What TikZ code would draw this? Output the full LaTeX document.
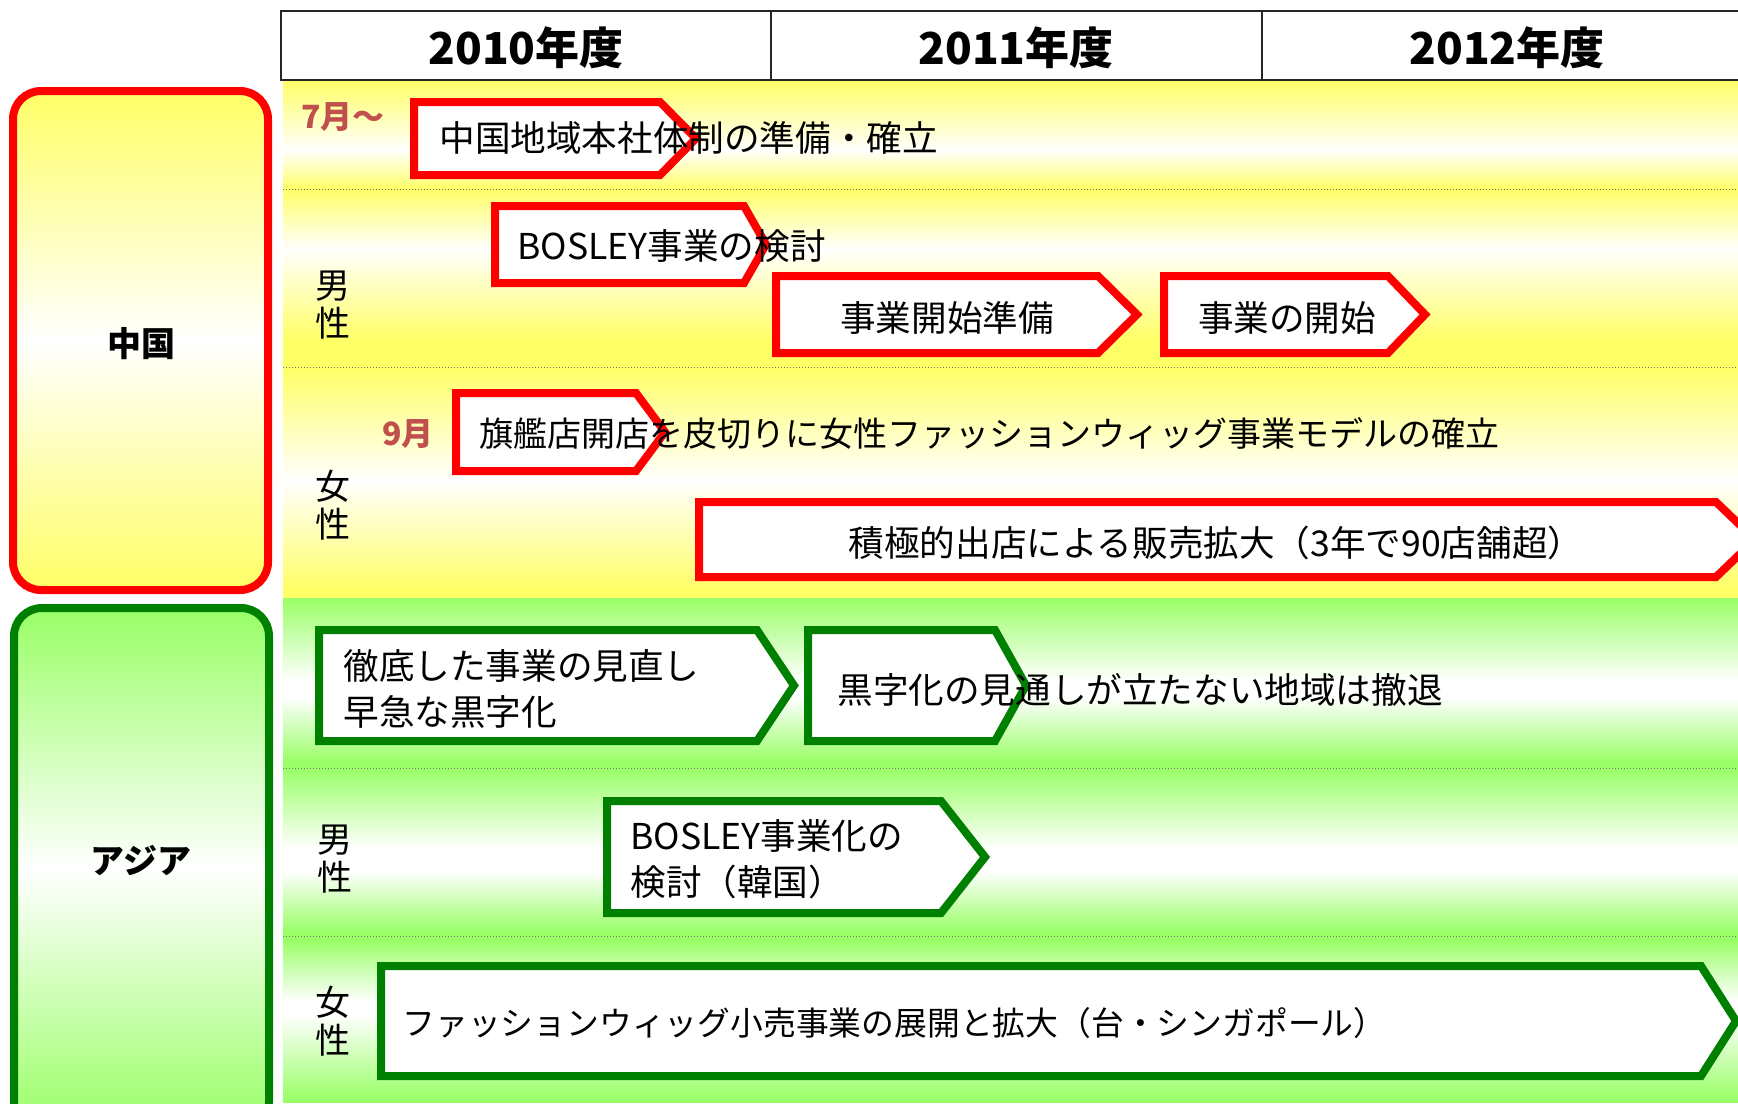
\documentclass[tikz,border=0pt]{standalone}
\usepackage{fontspec}
\setmainfont{Noto Sans CJK JP}
\definecolor{yl}{RGB}{255,255,102}
\definecolor{gr}{RGB}{153,255,102}
\definecolor{dgreen}{RGB}{0,128,0}
\definecolor{mred}{RGB}{192,80,77}
\newcommand\pentabox[6]{%
  \draw[#1] (#2,#3) -- (#5,#3) -- (#6,{(#3+#4)/2}) -- (#5,#4) -- (#2,#4) -- cycle;}
\begin{document}
\begin{tikzpicture}[x=0.5pt,y=-0.5pt,
  redbox/.style={draw=red, line width=4pt, fill=white, line join=miter},
  grbox/.style={draw=dgreen, line width=4pt, fill=white, line join=miter},
  txt/.style={anchor=west, inner sep=0pt, font=\fontsize{17.8pt}{23pt}\selectfont, align=left},
  ctxt/.style={anchor=center, inner sep=0pt, font=\fontsize{17.8pt}{23pt}\selectfont},
  sex/.style={anchor=center, inner sep=0pt, align=center, font=\fontsize{17.5pt}{19pt}\selectfont},
  hdr/.style={anchor=center, inner sep=0pt, font=\fontsize{22pt}{26pt}\selectfont\bfseries},
  cat/.style={anchor=center, inner sep=0pt, font=\fontsize{17pt}{20pt}\selectfont\bfseries},
  mon/.style={anchor=center, inner sep=0pt, text=mred, font=\fontsize{16pt}{20pt}\selectfont\bfseries},
  sep/.style={draw=black!55, densely dotted, line width=0.5pt}]
\useasboundingbox (0,0) rectangle (1738,1103);
\clip (0,0) rectangle (1738,1103);
% background bands
\fill[yl] (283,80) rectangle (1760,598);
\fill[gr] (283,598) rectangle (1760,1103);
\shade[top color=yl,bottom color=white] (283,80) rectangle (1760,151);
\shade[top color=white,bottom color=yl] (283,150) rectangle (1760,189);
\shade[top color=yl,bottom color=white] (283,189) rectangle (1760,249);
\shade[top color=white,bottom color=yl] (283,248) rectangle (1760,340);
\shade[top color=yl,bottom color=white] (283,367) rectangle (1760,481);
\shade[top color=white,bottom color=yl] (283,480) rectangle (1760,590);
\shade[top color=gr,bottom color=white] (283,598) rectangle (1760,681);
\fill[white] (283,680) rectangle (1760,698);
\shade[top color=white,bottom color=gr] (283,697) rectangle (1760,762);
\shade[top color=gr,bottom color=white] (283,768) rectangle (1760,848);
\fill[white] (283,847) rectangle (1760,872);
\shade[top color=white,bottom color=gr] (283,871) rectangle (1760,932);
\shade[top color=gr,bottom color=white] (283,940) rectangle (1760,1001);
\fill[white] (283,1000) rectangle (1760,1016);
\shade[top color=white,bottom color=gr] (283,1015) rectangle (1760,1100);
% separators
\draw[sep] (283,189) -- (1760,189);
\draw[sep] (283,367) -- (1760,367);
\draw[sep] (283,768) -- (1760,768);
\draw[sep] (283,936) -- (1760,936);
% header
\draw[fill=white, draw=black!85, line width=1pt] (281,11) rectangle (1760,80);
\draw[draw=black!85, line width=1pt] (771,11) -- (771,80);
\draw[draw=black!85, line width=1pt] (1262,11) -- (1262,80);
\node[hdr] (h1) at (526,48) {2010年度};
\node[hdr] (h2) at (1016,48) {2011年度};
\node[hdr] (h3) at (1507,48) {2012年度};
% category boxes
\draw[draw=red, line width=4pt, rounded corners=14pt, top color=yl, bottom color=yl, middle color=white] (13,91) rectangle (268,590);
\draw[draw=dgreen, line width=4pt, rounded corners=14pt, top color=gr, bottom color=gr, middle color=white] (14,608) rectangle (269,1130);
\node[cat] (cn) at (141,344) {中国};
\node[cat] (as) at (141,861) {アジア};
% row labels
\node[sex] (s1) at (333,305) {男\\性};
\node[sex] (s2) at (333,505) {女\\性};
\node[sex] (s3) at (335,859) {男\\性};
\node[sex] (s4) at (333,1021) {女\\性};
% month labels
\node[mon] (m1) at (343,117) {7月～};
\node[mon] (m2) at (408,434) {9月};
% red arrows
\pentabox{redbox}{414}{102}{175}{660}{696}
\pentabox{redbox}{495}{206}{283}{744}{766}
\pentabox{redbox}{776}{276}{353}{1098}{1137}
\pentabox{redbox}{1164}{276}{353}{1388}{1425}
\pentabox{redbox}{456}{393}{471}{636}{665}
\pentabox{redbox}{699}{502}{577}{1716}{1755}
% green arrows
\pentabox{grbox}{319}{630}{741}{757}{794}
\pentabox{grbox}{808}{630}{741}{995}{1026}
\pentabox{grbox}{607}{801}{913}{941}{985}
\pentabox{grbox}{381}{966}{1076}{1701}{1736}
% texts
\node[txt] (t1) at (439,138) {中国地域本社体制の準備・確立};
\node[txt] (t2) at (517,246) {BOSLEY事業の検討};
\node[ctxt] (t3) at (947,318) {事業開始準備};
\node[ctxt] (t4) at (1287,318) {事業の開始};
\node[txt, font=\fontsize{17pt}{23pt}\selectfont] (t5) at (479,433) {旗艦店開店を皮切りに女性ファッションウィッグ事業モデルの確立};
\node[ctxt] (t6) at (1216,543) {積極的出店による販売拡大（3年で90店舗超）};
\node[txt] (t7) at (343,689) {徹底した事業の見直し\\早急な黒字化};
\node[txt] (t8) at (837,690) {黒字化の見通しが立たない地域は撤退};
\node[txt] (t9) at (630,859) {BOSLEY事業化の\\検討（韓国）};
\node[txt, font=\fontsize{16.4pt}{23pt}\selectfont] (t10) at (402,1023) {ファッションウィッグ小売事業の展開と拡大（台・シンガポール）};
\end{tikzpicture}
\end{document}
